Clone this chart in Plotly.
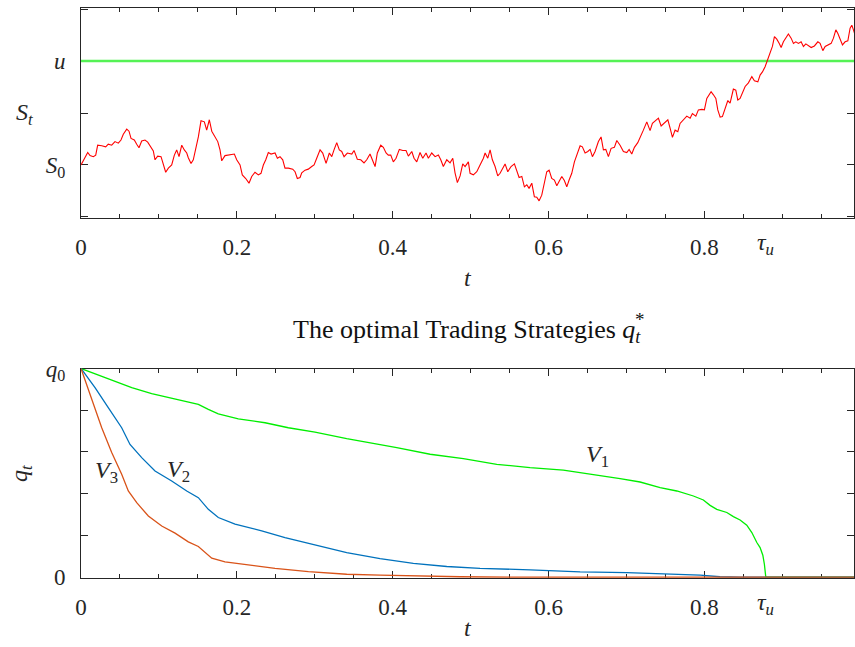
import plotly.graph_objects as go

# ---- simulated price path S_t ----
t_path = [0.0000, 0.0051, 0.0086, 0.0116, 0.0158, 0.0189, 0.0214, 0.0266, 0.0317, 0.0350,
          0.0394, 0.0436, 0.0479, 0.0513, 0.0543, 0.0587, 0.0616, 0.0642, 0.0684, 0.0715,
          0.0744, 0.0779, 0.0821, 0.0856, 0.0898, 0.0928, 0.0950, 0.0984, 0.1027, 0.1056,
          0.1087, 0.1121, 0.1164, 0.1198, 0.1228, 0.1258, 0.1293, 0.1326, 0.1357, 0.1377,
          0.1412, 0.1441, 0.1472, 0.1506, 0.1540, 0.1583, 0.1613, 0.1647, 0.1678, 0.1720,
          0.1755, 0.1784, 0.1806, 0.1848, 0.1912, 0.1968, 0.1998, 0.2041, 0.2070, 0.2114,
          0.2156, 0.2191, 0.2233, 0.2276, 0.2310, 0.2340, 0.2371, 0.2404, 0.2439, 0.2490,
          0.2520, 0.2554, 0.2589, 0.2618, 0.2661, 0.2717, 0.2747, 0.2776, 0.2811, 0.2833,
          0.2875, 0.2917, 0.2961, 0.2991, 0.3025, 0.3068, 0.3102, 0.3145, 0.3187, 0.3218,
          0.3247, 0.3282, 0.3315, 0.3346, 0.3376, 0.3418, 0.3475, 0.3504, 0.3546, 0.3590,
          0.3632, 0.3667, 0.3709, 0.3744, 0.3774, 0.3803, 0.3847, 0.3880, 0.3915, 0.3944,
          0.3975, 0.4008, 0.4043, 0.4085, 0.4129, 0.4171, 0.4201, 0.4245, 0.4274, 0.4309,
          0.4351, 0.4386, 0.4428, 0.4458, 0.4501, 0.4544, 0.4586, 0.4617, 0.4650, 0.4694,
          0.4736, 0.4771, 0.4800, 0.4830, 0.4865, 0.4899, 0.4929, 0.4971, 0.4993, 0.5035,
          0.5079, 0.5121, 0.5164, 0.5186, 0.5220, 0.5250, 0.5279, 0.5314, 0.5348, 0.5378,
          0.5408, 0.5442, 0.5477, 0.5519, 0.5562, 0.5592, 0.5622, 0.5657, 0.5690, 0.5721,
          0.5750, 0.5785, 0.5818, 0.5849, 0.5879, 0.5913, 0.5947, 0.5977, 0.6007, 0.6041,
          0.6075, 0.6106, 0.6135, 0.6170, 0.6203, 0.6234, 0.6264, 0.6298, 0.6332, 0.6362,
          0.6405, 0.6434, 0.6469, 0.6504, 0.6533, 0.6563, 0.6597, 0.6640, 0.6674, 0.6704,
          0.6735, 0.6768, 0.6803, 0.6845, 0.6876, 0.6918, 0.6961, 0.7004, 0.7034, 0.7068,
          0.7102, 0.7145, 0.7188, 0.7217, 0.7261, 0.7303, 0.7333, 0.7368, 0.7410, 0.7445,
          0.7487, 0.7531, 0.7560, 0.7590, 0.7624, 0.7659, 0.7688, 0.7731, 0.7774, 0.7817,
          0.7846, 0.7890, 0.7923, 0.7967, 0.8000, 0.8031, 0.8060, 0.8086, 0.8116, 0.8147,
          0.8172, 0.8202, 0.8231, 0.8266, 0.8301, 0.8330, 0.8372, 0.8403, 0.8429, 0.8458,
          0.8488, 0.8523, 0.8565, 0.8609, 0.8642, 0.8686, 0.8715, 0.8745, 0.8779, 0.8814,
          0.8844, 0.8873, 0.8899, 0.8929, 0.8959, 0.8985, 0.9014, 0.9045, 0.9078, 0.9113,
          0.9143, 0.9173, 0.9207, 0.9241, 0.9271, 0.9302, 0.9335, 0.9370, 0.9412, 0.9456,
          0.9485, 0.9520, 0.9550, 0.9584, 0.9627, 0.9656, 0.9687, 0.9713, 0.9742, 0.9772,
          0.9806, 0.9841, 0.9870, 0.9892, 0.9913, 0.9934]
s_path = [100.00, 100.13, 100.24, 100.18, 100.16, 100.19, 100.38, 100.37, 100.35, 100.40,
          100.38, 100.45, 100.42, 100.48, 100.59, 100.69, 100.65, 100.51, 100.48, 100.40,
          100.33, 100.46, 100.48, 100.44, 100.35, 100.27, 100.10, 100.17, 100.16, 100.00,
          99.86, 99.94, 100.00, 100.19, 100.29, 100.16, 100.38, 100.29, 100.23, 100.14,
          100.03, 100.10, 100.29, 100.54, 100.85, 100.83, 100.67, 100.87, 100.65, 100.54,
          100.45, 100.29, 100.08, 100.18, 100.19, 100.21, 100.10, 100.00, 99.81, 99.74,
          99.65, 99.78, 99.86, 99.81, 99.84, 100.00, 100.10, 100.24, 100.21, 100.23,
          100.13, 100.16, 100.10, 99.94, 99.94, 99.92, 99.87, 99.74, 99.76, 99.85,
          99.90, 99.92, 99.97, 100.00, 100.13, 100.29, 100.23, 100.03, 100.23, 100.16,
          100.29, 100.43, 100.29, 100.26, 100.16, 100.23, 100.21, 100.28, 100.11, 100.10,
          100.04, 100.10, 100.21, 100.06, 99.97, 100.23, 100.38, 100.34, 100.23, 100.19,
          100.19, 100.06, 100.13, 100.30, 100.28, 100.28, 100.17, 100.26, 100.13, 100.06,
          100.24, 100.13, 100.23, 100.13, 100.23, 100.16, 100.19, 100.10, 99.97, 100.10,
          100.04, 100.13, 99.85, 99.66, 99.79, 100.02, 99.97, 100.06, 99.84, 99.81,
          99.87, 100.00, 100.13, 100.23, 100.13, 100.29, 100.10, 99.97, 99.79, 99.84,
          99.94, 100.02, 99.87, 99.97, 100.02, 99.90, 99.76, 99.78, 99.58, 99.62,
          99.55, 99.65, 99.39, 99.38, 99.31, 99.42, 99.65, 99.87, 99.90, 99.74,
          99.71, 99.60, 99.68, 99.78, 99.70, 99.58, 99.71, 99.84, 100.06, 100.19,
          100.37, 100.35, 100.23, 100.26, 100.30, 100.16, 100.26, 100.45, 100.54, 100.29,
          100.30, 100.16, 100.32, 100.34, 100.47, 100.38, 100.26, 100.24, 100.30, 100.21,
          100.34, 100.43, 100.56, 100.67, 100.83, 100.66, 100.80, 100.85, 100.90, 100.75,
          100.81, 100.87, 100.71, 100.53, 100.67, 100.64, 100.80, 100.87, 100.94, 100.90,
          100.99, 100.94, 101.06, 101.07, 101.06, 101.28, 101.35, 101.41, 101.35, 101.28,
          101.06, 100.92, 100.93, 101.09, 101.24, 101.19, 101.46, 101.44, 101.25, 101.28,
          101.39, 101.51, 101.58, 101.70, 101.62, 101.60, 101.73, 101.79, 101.89, 102.05,
          102.15, 102.28, 102.47, 102.42, 102.34, 102.26, 102.37, 102.44, 102.52, 102.44,
          102.34, 102.37, 102.34, 102.37, 102.28, 102.33, 102.29, 102.26, 102.29, 102.37,
          102.34, 102.20, 102.28, 102.31, 102.34, 102.44, 102.60, 102.53, 102.40, 102.31,
          102.37, 102.39, 102.63, 102.69, 102.60, 102.50]

S0 = 100.0        # initial price
u_level = 102.0   # upper barrier u
tau_u = 0.879     # first hitting time of u
T_END = 0.992

# ---- optimal inventories q_t* (fraction of q0) ----
t_v1 = [0.0, 0.0266, 0.0522, 0.0651, 0.0907, 0.1207, 0.1506, 0.1634, 0.1762, 0.2019,
        0.2362, 0.2661, 0.3003, 0.3410, 0.3838, 0.4052, 0.4480, 0.4907, 0.5336, 0.5763,
        0.6190, 0.6575, 0.6918, 0.7175, 0.7432, 0.7646, 0.7859, 0.7987, 0.8073, 0.8159,
        0.8288, 0.8372, 0.8458, 0.8544, 0.8609, 0.8673, 0.8715, 0.8750, 0.8770, 0.8788,
        0.9000, 0.9500, 0.9920]
q_v1 = [1.0, 0.963, 0.928, 0.908, 0.880, 0.855, 0.828, 0.804, 0.783, 0.759,
        0.740, 0.716, 0.695, 0.664, 0.636, 0.621, 0.589, 0.568, 0.541, 0.525,
        0.513, 0.493, 0.472, 0.456, 0.429, 0.413, 0.389, 0.370, 0.344, 0.325,
        0.310, 0.290, 0.274, 0.249, 0.214, 0.166, 0.142, 0.105, 0.062, 0.0,
        0.0, 0.0, 0.0]

t_v2 = [0.0, 0.0180, 0.0350, 0.0522, 0.0629, 0.0779, 0.0950, 0.1164, 0.1357, 0.1506,
        0.1634, 0.1762, 0.1977, 0.2319, 0.2618, 0.2982, 0.3410, 0.3838, 0.4265, 0.4694,
        0.5121, 0.5763, 0.6405, 0.7004, 0.7560, 0.7945, 0.8200, 0.8460, 0.9000, 0.9920]
q_v2 = [1.0, 0.908, 0.812, 0.716, 0.636, 0.573, 0.509, 0.461, 0.413, 0.381,
        0.325, 0.286, 0.254, 0.222, 0.190, 0.158, 0.118, 0.089, 0.066, 0.051,
        0.042, 0.035, 0.025, 0.022, 0.014, 0.010, 0.002, 0.0, 0.0, 0.0]

t_v3 = [0.0, 0.0116, 0.0201, 0.0266, 0.0394, 0.0522, 0.0607, 0.0715, 0.0864, 0.1036,
        0.1207, 0.1377, 0.1506, 0.1678, 0.1848, 0.2063, 0.2490, 0.2918, 0.3410, 0.3838,
        0.4265, 0.4865, 0.5635, 0.7000, 0.9920]
q_v3 = [1.0, 0.876, 0.790, 0.716, 0.597, 0.493, 0.413, 0.357, 0.293, 0.245,
        0.211, 0.169, 0.147, 0.091, 0.073, 0.062, 0.042, 0.027, 0.014, 0.010,
        0.006, 0.002, 0.0, 0.0, 0.0]

x_ticks = [0.0, 0.2, 0.4, 0.6, 0.8]
x_tick_text = ["0", "0.2", "0.4", "0.6", "0.8"]
x_minor = [0.05, 0.10, 0.15, 0.25, 0.30, 0.35, 0.45, 0.50, 0.55,
           0.65, 0.70, 0.75, 0.85, 0.90, 0.95]
s_ticks = [99.0, 100.0, 101.0, 102.0, 103.0]
s_tick_text = ["", "<i>S</i><sub>0</sub>", "", "<i>u</i>", ""]
q_ticks = [0.0, 0.2, 0.4, 0.6, 0.8, 1.0]
q_tick_text = ["0", "", "", "", "", "<i>q</i><sub>0</sub>"]

W, H = 855, 647
FONT = "Liberation Serif"
INK = "#262626"


def px(xp):
    return xp / W


def py(yp):
    return 1 - yp / H


fig = go.Figure()

# top panel: barrier and price path
fig.add_trace(go.Scatter(x=[0, T_END], y=[u_level, u_level], mode="lines",
                         line=dict(color="#55f255", width=2.6),
                         xaxis="x", yaxis="y", hoverinfo="skip"))
fig.add_trace(go.Scatter(x=t_path, y=s_path, mode="lines",
                         line=dict(color="#ff0000", width=1.1),
                         xaxis="x", yaxis="y"))

# bottom panel: strategies
fig.add_trace(go.Scatter(x=t_v1, y=q_v1, mode="lines",
                         line=dict(color="#00ee00", width=1.3),
                         xaxis="x2", yaxis="y2"))
fig.add_trace(go.Scatter(x=t_v2, y=q_v2, mode="lines",
                         line=dict(color="#0072bd", width=1.3),
                         xaxis="x2", yaxis="y2"))
fig.add_trace(go.Scatter(x=t_v3, y=q_v3, mode="lines",
                         line=dict(color="#d95319", width=1.3),
                         xaxis="x2", yaxis="y2"))

tick_font = dict(family=FONT, size=23, color=INK)

x_common = dict(
    range=[0, T_END], tickmode="array", tickvals=x_ticks, ticktext=x_tick_text,
    ticks="inside", ticklen=7, tickwidth=1, tickcolor=INK,
    showline=True, linecolor=INK, linewidth=1, mirror="allticks",
    showgrid=False, zeroline=False, tickfont=tick_font, layer="below traces",
    minor=dict(tickmode="array", tickvals=x_minor, ticks="inside",
               ticklen=4, tickwidth=1, tickcolor=INK, showgrid=False),
    ticklabelstandoff=8, automargin=False,
)
y_common = dict(
    tickmode="array", ticks="inside", ticklen=7, tickwidth=1, tickcolor=INK,
    showline=True, linecolor=INK, linewidth=1, mirror="allticks",
    showgrid=False, zeroline=False, tickfont=tick_font, layer="below traces",
    ticklabelstandoff=10, automargin=False,
)

fig.update_layout(
    width=W, height=H,
    margin=dict(l=0, r=0, t=0, b=0, autoexpand=False),
    paper_bgcolor="white", plot_bgcolor="white",
    showlegend=False,
    xaxis=dict(domain=[px(81), px(854)], anchor="y", **x_common),
    yaxis=dict(domain=[py(218), py(8)], anchor="x", range=[98.98, 103.02],
               tickvals=s_ticks, ticktext=s_tick_text, **y_common),
    xaxis2=dict(domain=[px(81), px(854)], anchor="y2", **x_common),
    yaxis2=dict(domain=[py(578), py(368.5)], anchor="x2", range=[-0.004, 1.0],
                tickvals=q_ticks, ticktext=q_tick_text, **y_common),
)

label_font = dict(family=FONT, size=24, color=INK)
title_font = dict(family=FONT, size=26, color="#111111")
centered = dict(showarrow=False, xanchor="center", yanchor="middle")
annotations = [
    # axis titles
    dict(text="<i>S</i><sub><i>t</i></sub>", x=px(24), y=py(114), xref="paper", yref="paper",
         font=label_font, **centered),
    dict(text="<i>q</i><sub><i>t</i></sub>", x=px(21), y=py(474), xref="paper", yref="paper",
         font=label_font, textangle=-90, **centered),
    dict(text="<i>t</i>", x=px(468), y=py(278), xref="paper", yref="paper",
         font=label_font, **centered),
    dict(text="<i>t</i>", x=px(468), y=py(628), xref="paper", yref="paper",
         font=label_font, **centered),
    # hitting time markers under both time axes
    dict(text="<i>τ</i><sub><i>u</i></sub>", x=tau_u, y=py(244), xref="x", yref="paper",
         font=label_font, **centered),
    dict(text="<i>τ</i><sub><i>u</i></sub>", x=tau_u, y=py(604), xref="x2", yref="paper",
         font=label_font, **centered),
    # panel title, with the star stacked above the subscript
    dict(text="The optimal Trading Strategies <i>q</i><sub><i>t</i></sub>",
         x=px(291), y=py(331), xref="paper", yref="paper", showarrow=False,
         xanchor="left", yanchor="middle", font=title_font),
    dict(text="*", x=px(640), y=py(320), xref="paper", yref="paper",
         font=dict(family=FONT, size=19, color="#111111"), **centered),
    # curve labels
    dict(text="<i>V</i><sub>1</sub>", x=0.6624, y=0.583, xref="x2", yref="y2",
         font=label_font, **centered),
    dict(text="<i>V</i><sub>2</sub>", x=0.1245, y=0.507, xref="x2", yref="y2",
         font=label_font, **centered),
    dict(text="<i>V</i><sub>3</sub>", x=0.033, y=0.502, xref="x2", yref="y2",
         font=label_font, **centered),
]
fig.update_layout(annotations=annotations)

fig.write_html("out.html")
